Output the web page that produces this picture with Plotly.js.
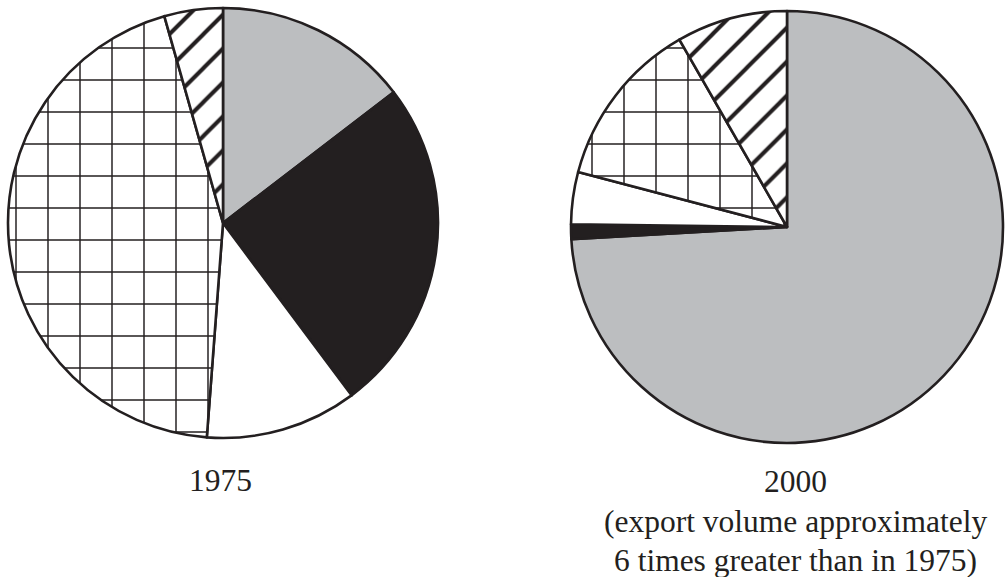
<!DOCTYPE html>
<html>
<head>
<meta charset="utf-8">
<script src="https://cdn.plot.ly/plotly-3.0.1.min.js"></script>
<style>html,body{margin:0;padding:0;background:#fff;}#chart{width:1006px;height:577px;}</style>
</head>
<body>
<div id="chart"></div>
<script>
// Slices in clockwise order starting at 12 o'clock
const categories = ['Gray', 'Black', 'White', 'Grid', 'Hatched'];
const values1975 = [14.6, 25.2, 11.4, 44.4, 4.4];
const values2000 = [74.1, 1.1, 3.9, 12.6, 8.3];
const label1975 = '1975';
const label2000 = ['2000', '(export volume approximately', '6 times greater than in 1975)'];

const W = 1006, H = 577;
const fills = ['#bcbec0', '#231f20', '#ffffff', '#ffffff', '#ffffff'];
const shapes = ['', '', '', '+', '/'];
const sizes = [10, 10, 10, 32, 24];
const solid = [0.1, 0.1, 0.1, 0.09, 0.17];

function pieTrace(vals, cx, cy, r) {
  return {
    type: 'pie',
    labels: categories,
    values: vals,
    sort: false,
    direction: 'clockwise',
    rotation: 0,
    textinfo: 'none',
    hoverinfo: 'label+percent',
    showlegend: false,
    marker: {
      colors: fills,
      line: {color: '#231f20', width: 2.6},
      pattern: {shape: shapes, size: sizes, solidity: solid, fgcolor: '#231f20', fillmode: 'replace'}
    },
    domain: {
      x: [(cx - r) / W, (cx + r) / W],
      y: [1 - (cy + r) / H, 1 - (cy - r) / H]
    }
  };
}

const data = [
  pieTrace(values1975, 223, 223, 215),
  pieTrace(values2000, 787, 227, 216)
];

const font = {family: '"Liberation Serif", "Times New Roman", serif', size: 31.5, color: '#231f20'};
const annotations = [
  {text: label1975, x: 220 / W, y: 1 - 480 / H, xref: 'paper', yref: 'paper', xanchor: 'center', yanchor: 'middle', showarrow: false, font: font}
];
const ys = [482, 521, 560];
label2000.forEach((t, i) => {
  annotations.push({text: t, x: 795 / W, y: 1 - ys[i] / H, xref: 'paper', yref: 'paper', xanchor: 'center', yanchor: 'middle', showarrow: false, font: font});
});

const layout = {
  width: W, height: H,
  margin: {l: 0, r: 0, t: 0, b: 0},
  paper_bgcolor: '#ffffff',
  plot_bgcolor: '#ffffff',
  annotations: annotations
};

Plotly.newPlot('chart', data, layout, {displayModeBar: false, staticPlot: true});
</script>
</body>
</html>
